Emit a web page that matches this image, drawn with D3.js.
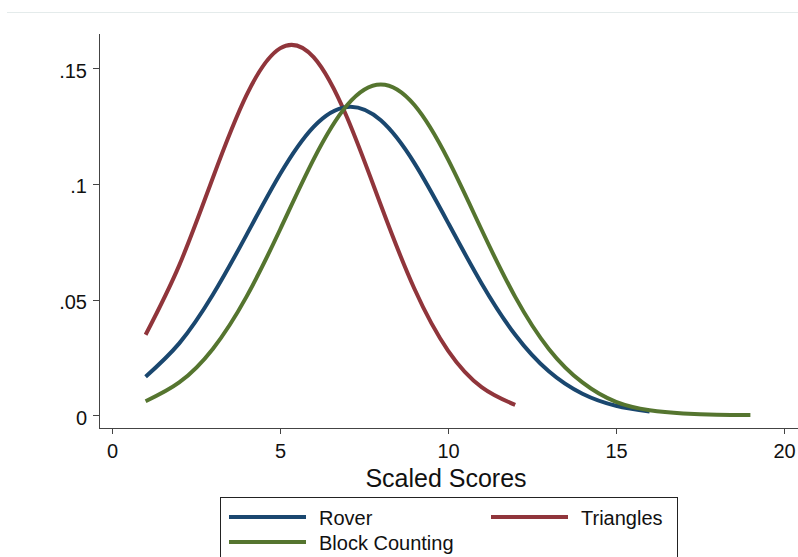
<!DOCTYPE html>
<html lang='en'>
  <head>
    <meta charset='utf-8'>
    <title>Scaled Scores densities</title>
    <script type='text/javascript' src='https://cdn.jsdelivr.net/npm/d3@7'></script>
    <style type='text/css'>
    body{ margin: 0; background: #fff; }
    .axis path,
    .axis line{
      fill: none;
      stroke: #444;
      shape-rendering: crispEdges;
    }
    .axis text{
      font-family: 'Liberation Sans', Arial, sans-serif;
      font-size: 20px;
      fill: #111;
    }
    </style>
  </head>
  <body>
    <script type='text/javascript'>

    var w = 798;
    var h = 557;

    // values, one per integer score
    var roverX = [1,2,3,4,5,6,7,8,9,10,11,12,13,14,15,16];
    var roverY = [0.0167,0.0311,0.0521,0.0779,0.1042,0.1247,0.1333,0.1275,0.1090,0.0833,0.0570,0.0348,0.0190,0.0093,0.0041,0.0016];

    var triX = [1,2,3,4,5,6,7,8,9,10,11,12];
    var triY = [0.0348,0.0648,0.1026,0.1383,0.1586,0.1548,0.1286,0.0909,0.0547,0.0280,0.0122,0.0045];

    var blockX = [1,2,3,4,5,6,7,8,9,10,11,12,13,14,15,16,17,18,19];
    var blockY = [0.0061,0.0142,0.0287,0.0512,0.0802,0.1106,0.1341,0.1430,0.1341,0.1106,0.0802,0.0512,0.0287,0.0142,0.0058,0.0022,0.0008,0.0002,0.0001];

    var xTicks = [0,5,10,15,20];
    var yTicks = [0,0.05,0.1,0.15];
    var yTickLabels = ['0','.05','.1','.15'];

    var seriesNames = ['Rover','Triangles','Block Counting'];
    var colors = ['#1a476f','#90353b','#55752f'];

    var series = [
      {name: seriesNames[0], color: colors[0], pts: d3.zip(roverX, roverY)},
      {name: seriesNames[1], color: colors[1], pts: d3.zip(triX, triY)},
      {name: seriesNames[2], color: colors[2], pts: d3.zip(blockX, blockY)}
    ];

    var font = "'Liberation Sans', Arial, sans-serif";

    var svg = d3.select('body')
                .append('svg')
                .attr('width', w)
                .attr('height', h);

    // faint page border at the top
    svg.append('line')
       .attr('x1', 7).attr('x2', w)
       .attr('y1', 12.5).attr('y2', 12.5)
       .attr('stroke', '#e4ebeb')
       .attr('stroke-width', 1);

    var xScale = d3.scaleLinear()
                   .domain([0, 20])
                   .range([112, 784]);

    var yScale = d3.scaleLinear()
                   .domain([0, 0.15])
                   .range([415.3, 68.3]);

    var axisX = 99;
    var axisY = 428;

    var xAxis = d3.axisBottom(xScale)
                  .tickValues(xTicks)
                  .tickSize(6)
                  .tickSizeOuter(0)
                  .tickPadding(10);

    var yAxis = d3.axisLeft(yScale)
                  .tickValues(yTicks)
                  .tickFormat(function(d, i){ return yTickLabels[i]; })
                  .tickSize(6)
                  .tickSizeOuter(0)
                  .tickPadding(6);

    var gx = svg.append('g')
       .attr('class', 'x axis')
       .attr('transform', 'translate(0,' + axisY + ')')
       .call(xAxis);
    gx.select('.domain').attr('d', 'M' + axisX + ',0.5H' + w);

    var gy = svg.append('g')
       .attr('class', 'y axis')
       .attr('transform', 'translate(' + axisX + ',0)')
       .call(yAxis);
    gy.select('.domain').attr('d', 'M0.5,34V' + (axisY + 0.5));
    gy.selectAll('.tick text').attr('dy', '0.45em');

    svg.append('text')
       .attr('x', 446)
       .attr('y', 487)
       .attr('text-anchor', 'middle')
       .attr('font-family', font)
       .attr('font-size', '25px')
       .attr('fill', '#111')
       .text('Scaled Scores');

    var line = d3.line()
                 .x(function(d){ return xScale(d[0]); })
                 .y(function(d){ return yScale(d[1]); })
                 .curve(d3.curveNatural);

    // draw order: triangles, rover, block counting on top
    [1, 0, 2].forEach(function(i){
      svg.append('path')
         .datum(series[i].pts)
         .attr('d', line)
         .attr('fill', 'none')
         .attr('stroke', series[i].color)
         .attr('stroke-width', 4);
    });

    // legend
    var lg = svg.append('g');
    lg.append('rect')
      .attr('x', 220.5).attr('y', 497.5)
      .attr('width', 457).attr('height', 80)
      .attr('fill', '#fff')
      .attr('stroke', '#222')
      .attr('stroke-width', 1);

    var legendPos = [[229, 517], [491, 517], [229, 542]];
    series.forEach(function(s, i){
      var p = legendPos[i];
      lg.append('line')
        .attr('x1', p[0]).attr('x2', p[0] + 77)
        .attr('y1', p[1]).attr('y2', p[1])
        .attr('stroke', s.color)
        .attr('stroke-width', 4);
      lg.append('text')
        .attr('x', p[0] + 90)
        .attr('y', p[1] + 8)
        .attr('font-family', font)
        .attr('font-size', '20px')
        .attr('fill', '#111')
        .text(s.name);
    });

    </script>
  </body>
</html>
